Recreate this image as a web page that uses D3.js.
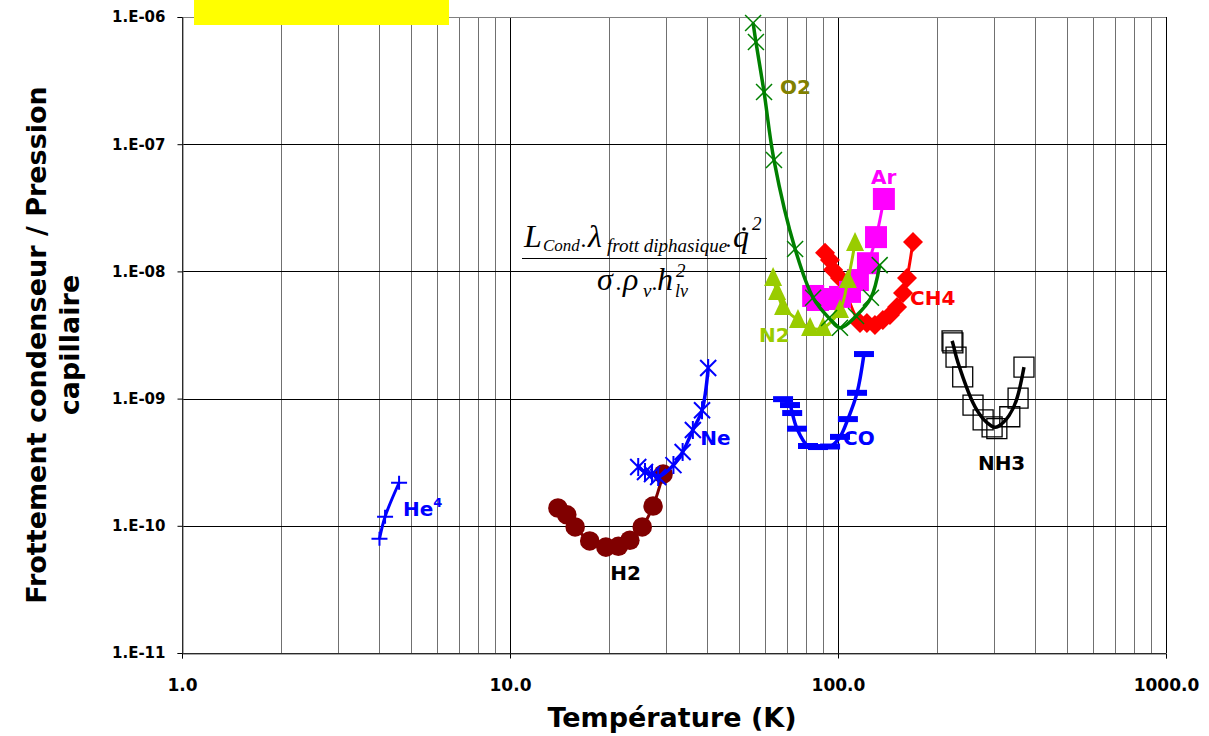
<!DOCTYPE html>
<html>
<head>
  <meta charset="UTF-8">
  <title>Frottement condenseur / Pression capillaire</title>
  <script src="https://cdn.jsdelivr.net/npm/d3@7/dist/d3.min.js"></script>
  <style>
    body {
      margin: 0;
      padding: 0;
      background-color: #ffffff;
    }
    .tick-label {
      font-family: 'DejaVu Sans', sans-serif;
      font-weight: bold;
    }
    .axis-title {
      font-family: 'DejaVu Sans', sans-serif;
      font-weight: bold;
      font-size: 27px;
    }
    .serie-label {
      font-family: 'DejaVu Sans', sans-serif;
      font-weight: bold;
      font-size: 20px;
    }
    .formula {
      font-family: 'Liberation Serif', 'Times New Roman', serif;
      font-style: italic;
    }
  </style>
</head>
<body>
  <svg id="chart"></svg>
  <script>
    // valeurs (T en K, rapport sans dimension)
    const he4T = [4.0, 4.16, 4.59];
    const he4V = [7.9e-11, 1.18e-10, 2.18e-10];

    const h2T = [14.0, 14.9, 15.8, 17.5, 19.6, 21.4, 23.2, 25.3, 27.3, 29.3];
    const h2V = [1.38e-10, 1.22e-10, 9.8e-11, 7.6e-11, 6.8e-11, 6.9e-11, 7.7e-11, 9.8e-11, 1.43e-10, 2.55e-10];

    const neT = [24.6, 25.8, 27.1, 28.3, 31.5, 33.6, 36.1, 38.5, 40.2];
    const neV = [2.9e-10, 2.65e-10, 2.55e-10, 2.42e-10, 3.0e-10, 3.8e-10, 5.66e-10, 8.1e-10, 1.74e-9];

    const coT = [68, 71.4, 72.5, 75, 81, 86.9, 94.6, 101.4, 107.2, 114.3, 120];
    const coV = [9.9e-10, 8.9e-10, 7.7e-10, 5.8e-10, 4.24e-10, 4.16e-10, 4.2e-10, 5.0e-10, 6.9e-10, 1.11e-9, 2.24e-9];

    const nh3T = [222.7, 224, 229, 240, 258, 277, 295, 305, 334, 354, 369];
    const nh3V = [2.84e-9, 2.74e-9, 2.12e-9, 1.48e-9, 8.9e-10, 6.8e-10, 6.0e-10, 5.8e-10, 7.2e-10, 1.01e-9, 1.77e-9];

    const o2T = [55.1, 56.2, 59.5, 63.8, 74, 84, 93.9, 101.4, 113.5, 126, 134];
    const o2V = [8.97e-7, 6.36e-7, 2.57e-7, 7.5e-8, 1.5e-8, 6.2e-9, 4.3e-9, 3.6e-9, 4.46e-9, 6.2e-9, 1.12e-8];

    const n2T = [63.4, 65.2, 68, 75.5, 82.2, 90, 101.4, 107.2, 112.7];
    const n2V = [8.87e-9, 6.9e-9, 5.25e-9, 4.15e-9, 3.59e-9, 3.59e-9, 4.97e-9, 8.55e-9, 1.67e-8];

    const arT = [84, 86.9, 93.2, 101.4, 108.8, 115, 123.4, 130.6, 138];
    const arV = [6.41e-9, 5.96e-9, 6.07e-9, 6.3e-9, 6.9e-9, 8.55e-9, 1.16e-8, 1.86e-8, 3.71e-8];

    const ch4T = [91.3, 94.5, 96.6, 101.4, 116.7, 122.5, 129.6, 137, 144, 151.4, 157.8, 162.3, 169.3];
    const ch4V = [1.4e-8, 1.23e-8, 1.03e-8, 8.87e-9, 3.93e-9, 3.93e-9, 3.79e-9, 4.15e-9, 4.54e-9, 5.25e-9, 6.76e-9, 8.87e-9, 1.7e-8];

    const xTicks = [1, 10, 100, 1000];
    const xTickLabels = ["1.0", "10.0", "100.0", "1000.0"];
    const yTicks = [1e-11, 1e-10, 1e-9, 1e-8, 1e-7, 1e-6];
    const yTickLabels = ["1.E-11", "1.E-10", "1.E-09", "1.E-08", "1.E-07", "1.E-06"];

    const W = 1209, H = 736;
    const mLeft = 182, mRight = 1166, mTop = 17, mBottom = 653;

    const x = d3.scaleLog().domain([1, 1000]).range([mLeft, mRight]);
    const y = d3.scaleLog().domain([1e-11, 1e-6]).range([mBottom, mTop]);

    const svg = d3.select("#chart").attr("width", W).attr("height", H);

    // quadrillage
    const minorX = [];
    [1, 10, 100].forEach(function(d) {
      for (let k = 2; k <= 9; k++) minorX.push(d * k);
    });
    svg.append("g").selectAll("line").data(minorX).enter().append("line")
      .attr("x1", d => Math.round(x(d)) + 0.5).attr("x2", d => Math.round(x(d)) + 0.5)
      .attr("y1", mTop).attr("y2", mBottom)
      .attr("stroke", "#707070").attr("stroke-width", 1);
    svg.append("g").selectAll("line").data(xTicks).enter().append("line")
      .attr("x1", d => Math.round(x(d)) + 0.5).attr("x2", d => Math.round(x(d)) + 0.5)
      .attr("y1", mTop).attr("y2", mBottom)
      .attr("stroke", "#000").attr("stroke-width", 1);
    svg.append("g").selectAll("line").data(yTicks).enter().append("line")
      .attr("x1", mLeft).attr("x2", mRight)
      .attr("y1", d => Math.round(y(d)) + 0.5).attr("y2", d => Math.round(y(d)) + 0.5)
      .attr("stroke", d => d === 1e-6 ? "#808080" : "#000").attr("stroke-width", 1);

    // axes
    const yAxis = svg.append("g").attr("transform", `translate(${mLeft + 0.5},0)`)
      .call(d3.axisLeft(y).tickValues(yTicks).tickFormat((d, i) => yTickLabels[i]).tickSize(5).tickPadding(12));
    yAxis.select(".domain").attr("stroke", "#555");
    yAxis.selectAll("text").attr("class", "tick-label").style("font-size", "15px").attr("fill", "#000");

    const xAxis = svg.append("g").attr("transform", `translate(0,${mBottom + 0.5})`)
      .call(d3.axisBottom(x).tickValues(xTicks).tickFormat((d, i) => xTickLabels[i]).tickSize(5).tickPadding(20));
    xAxis.select(".domain").attr("stroke", "#555");
    xAxis.selectAll("text").attr("class", "tick-label").style("font-size", "17px").attr("fill", "#000");

    // titres
    svg.append("text").attr("class", "axis-title")
      .attr("x", 672).attr("y", 727).attr("text-anchor", "middle")
      .text("Température (K)");
    svg.append("text").attr("class", "axis-title")
      .attr("transform", "translate(46,345) rotate(-90)").attr("text-anchor", "middle")
      .text("Frottement condenseur / Pression");
    svg.append("text").attr("class", "axis-title")
      .attr("transform", "translate(79,345) rotate(-90)").attr("text-anchor", "middle")
      .text("capillaire");

    // marqueurs
    function markerPath(type) {
      switch (type) {
        case "circle": return d3.symbol().type(d3.symbolCircle).size(300)();
        case "square": return "M-11,-11H11V11H-11Z";
        case "open": return "M-10,-10H10V10H-10Z";
        case "diamond": return "M0,-10L10,0L0,10L-10,0Z";
        case "triangle": return "M0,-11L9,8H-9Z";
        case "cross": return "M-8,-8L8,8M-8,8L8,-8";
        case "star": return "M-8,-8L8,8M-8,8L8,-8M0,-9V9";
        case "dash": return "M-10,-3H10V3H-10Z";
        case "plus": return "M-8,0H8M0,-7V7";
      }
    }

    const series = [
      { name: "He4", T: he4T, V: he4V, color: "#0000FF", marker: "plus", curve: d3.curveCatmullRom, width: 3 },
      { name: "H2", T: h2T, V: h2V, color: "#800000", marker: "circle", curve: d3.curveCatmullRom, width: 3 },
      { name: "Ne", T: neT, V: neV, color: "#0000FF", marker: "star", curve: d3.curveCatmullRom, width: 3.5 },
      { name: "CO", T: coT, V: coV, color: "#0000FF", marker: "dash", curve: d3.curveCatmullRom, width: 3.5 },
      { name: "NH3", T: nh3T, V: nh3V, color: "#000000", marker: "open", curve: d3.curveBasis, width: 3.5 },
      { name: "CH4", T: ch4T, V: ch4V, color: "#FF0000", marker: "diamond", curve: d3.curveCatmullRom, width: 3 },
      { name: "Ar", T: arT, V: arV, color: "#FF00FF", marker: "square", curve: d3.curveCatmullRom, width: 3 },
      { name: "N2", T: n2T, V: n2V, color: "#99CC00", marker: "triangle", curve: d3.curveCatmullRom, width: 3 },
      { name: "O2", T: o2T, V: o2V, color: "#008000", marker: "cross", curve: d3.curveCatmullRom, width: 3.5 }
    ];

    series.forEach(function(s) {
      const pts = s.T.map((t, i) => [t, s.V[i]]);
      const g = svg.append("g");
      const lineGen = d3.line().x(d => x(d[0])).y(d => y(d[1])).curve(s.curve);
      const open = s.marker === "open";
      const stroked = ["cross", "star", "plus"].indexOf(s.marker) >= 0;
      if (s.name === "NH3") {
        drawMarkers();
        drawLine();
      } else {
        drawLine();
        drawMarkers();
      }
      function drawLine() {
        g.append("path").datum(pts)
          .attr("d", lineGen)
          .attr("fill", "none")
          .attr("stroke", s.color)
          .attr("stroke-width", s.width)
          .attr("stroke-linejoin", "round");
      }
      function drawMarkers() {
        g.selectAll(".pt").data(pts).enter().append("path")
          .attr("class", "pt")
          .attr("transform", d => `translate(${x(d[0])},${y(d[1])})`)
          .attr("d", markerPath(s.marker))
          .attr("fill", open || stroked ? "none" : s.color)
          .attr("stroke", s.color)
          .attr("stroke-width", stroked ? (s.marker === "cross" ? 1.5 : 2) : (open ? 1.3 : 0));
      }
    });

    // étiquettes des courbes
    const labels = [
      { text: "O2", T: 66.6, V: 2.48e-7, color: "#808000" },
      { text: "Ar", T: 126, V: 4.86e-8, color: "#FF00FF" },
      { text: "CH4", T: 165.8, V: 5.44e-9, color: "#FF0000" },
      { text: "N2", T: 57.4, V: 2.79e-9, color: "#99CC00" },
      { text: "CO", T: 103.6, V: 4.32e-10, color: "#0000FF" },
      { text: "NH3", T: 267, V: 2.75e-10, color: "#000000" },
      { text: "Ne", T: 38, V: 4.32e-10, color: "#0000FF" },
      { text: "H2", T: 20.2, V: 3.75e-11, color: "#000000" }
    ];
    svg.append("g").selectAll("text").data(labels).enter().append("text")
      .attr("class", "serie-label")
      .attr("x", d => x(d.T)).attr("y", d => y(d.V))
      .attr("fill", d => d.color)
      .text(d => d.text);

    const he = svg.append("text").attr("class", "serie-label")
      .attr("x", x(4.72)).attr("y", y(1.19e-10)).attr("fill", "#0000FF");
    he.append("tspan").text("He");
    he.append("tspan").attr("dy", -9).style("font-size", "13px").text("4");

    // formule : un texte pour le numérateur, un pour le dénominateur
    const numerator = [
      { t: "L", x: 524, y: 247, s: 32 },
      { t: "Cond", x: 543, y: 251, s: 17 },
      { t: ".", x: 581, y: 247, s: 24 },
      { t: "λ", x: 588, y: 247, s: 32 },
      { t: "frott diphasique", x: 607, y: 252, s: 19 },
      { t: ".", x: 726, y: 247, s: 24 },
      { t: "q", x: 733, y: 247, s: 32 },
      { t: "2", x: 752, y: 230, s: 19 }
    ];
    const denominator = [
      { t: "σ", x: 597, y: 290, s: 32 },
      { t: ".", x: 616, y: 290, s: 24 },
      { t: "ρ", x: 623, y: 290, s: 32 },
      { t: "v", x: 643, y: 297, s: 19 },
      { t: ".", x: 652, y: 290, s: 24 },
      { t: "h", x: 657, y: 290, s: 32 },
      { t: "2", x: 676, y: 277, s: 19 },
      { t: "lv", x: 675, y: 297, s: 18 }
    ];
    [numerator, denominator].forEach(function(parts) {
      const txt = svg.append("text").attr("class", "formula");
      txt.selectAll("tspan").data(parts).enter().append("tspan")
        .attr("x", d => d.x).attr("y", d => d.y)
        .style("font-size", d => d.s + "px")
        .text(d => d.t);
    });
    // point de q (dérivée)
    svg.append("circle").attr("cx", 744).attr("cy", 229).attr("r", 1.8).attr("fill", "#000");
    svg.append("line")
      .attr("x1", 522).attr("x2", 767).attr("y1", 258.5).attr("y2", 258.5)
      .attr("stroke", "#000").attr("stroke-width", 1.2);

    // bandeau jaune
    svg.append("rect")
      .attr("x", 194).attr("y", 0).attr("width", 255).attr("height", 25)
      .attr("fill", "#FFFF00");
  </script>
</body>
</html>
